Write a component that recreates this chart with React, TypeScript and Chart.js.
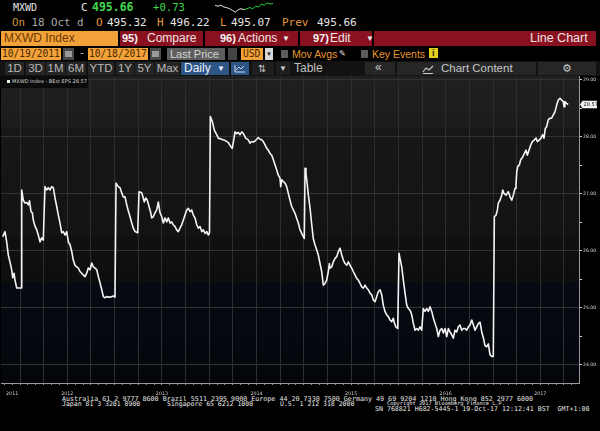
import React, { useEffect, useRef } from 'react';
import { Chart, registerables } from 'chart.js';

Chart.register(...registerables);

// ---- data: MXWD Index BEst EPS, decimal-year dates ----
const dates = [
  2011.817, 2011.841, 2011.859, 2011.876, 2011.894, 2011.912, 2011.923, 2011.937, 2011.947, 2011.965, 2012.000, 2012.011,
  2012.018, 2012.035, 2012.053, 2012.071, 2012.088, 2012.100, 2012.116, 2012.130, 2012.141, 2012.159, 2012.177, 2012.193, 2012.211, 2012.229, 2012.246,
  2012.264, 2012.282, 2012.299, 2012.317, 2012.335, 2012.352, 2012.370, 2012.388, 2012.405, 2012.423, 2012.441, 2012.458, 2012.476, 2012.494, 2012.511, 2012.529, 2012.547, 2012.563, 2012.581, 2012.599, 2012.616, 2012.634, 2012.652, 2012.669, 2012.687, 2012.705, 2012.722, 2012.740, 2012.758, 2012.775, 2012.793, 2012.811, 2012.828, 2012.846, 2012.864, 2012.881, 2012.899, 2012.917, 2012.933, 2012.951, 2012.986, 2013.004,
  2013.015, 2013.039, 2013.057, 2013.075, 2013.092, 2013.110, 2013.128, 2013.145, 2013.163, 2013.181, 2013.198, 2013.216, 2013.244,
  2013.258, 2013.286, 2013.303, 2013.314, 2013.329, 2013.346, 2013.364, 2013.382, 2013.392, 2013.409, 2013.427, 2013.445, 2013.462, 2013.480, 2013.498, 2013.515, 2013.533, 2013.551, 2013.568, 2013.586, 2013.604, 2013.620, 2013.638, 2013.656, 2013.673, 2013.691, 2013.709, 2013.726, 2013.744, 2013.762, 2013.779, 2013.797, 2013.815, 2013.832, 2013.850, 2013.868, 2013.885, 2013.903, 2013.921, 2013.938, 2013.956, 2013.974, 2013.990, 2014.003,
  2014.012, 2014.033, 2014.054, 2014.079, 2014.096, 2014.132, 2014.167, 2014.202, 2014.230, 2014.244, 2014.259, 2014.273, 2014.291, 2014.308, 2014.326, 2014.344, 2014.361, 2014.386, 2014.413, 2014.431, 2014.449, 2014.466, 2014.484, 2014.502, 2014.519, 2014.537, 2014.555, 2014.572, 2014.590, 2014.608, 2014.625, 2014.643, 2014.661, 2014.678, 2014.696, 2014.714, 2014.730, 2014.748, 2014.756, 2014.766, 2014.783, 2014.801, 2014.819, 2014.836, 2014.854, 2014.872, 2014.889, 2014.907, 2014.925, 2014.942, 2014.960, 2014.978, 2014.995, 2015.005,
  2015.013, 2015.023, 2015.037, 2015.048, 2015.066, 2015.084, 2015.100, 2015.118, 2015.136, 2015.153, 2015.171, 2015.189, 2015.206, 2015.224, 2015.242, 2015.259, 2015.270, 2015.277, 2015.295, 2015.312, 2015.330, 2015.348, 2015.365, 2015.383, 2015.401, 2015.418, 2015.436, 2015.454, 2015.471, 2015.488, 2015.506, 2015.523, 2015.541, 2015.559, 2015.576, 2015.594, 2015.612, 2015.629, 2015.647, 2015.665, 2015.682, 2015.700, 2015.718, 2015.735, 2015.753, 2015.771, 2015.788, 2015.806, 2015.824, 2015.840, 2015.858, 2015.876, 2015.893, 2015.911, 2015.929, 2015.946, 2015.957, 2015.972, 2015.993,
  2016.006, 2016.017, 2016.035, 2016.052, 2016.070, 2016.088, 2016.105, 2016.123, 2016.141, 2016.158, 2016.176, 2016.194, 2016.211, 2016.228, 2016.246, 2016.263, 2016.281, 2016.299, 2016.316, 2016.334, 2016.352, 2016.370, 2016.387, 2016.405, 2016.422, 2016.440, 2016.458, 2016.475, 2016.493, 2016.511, 2016.528, 2016.545, 2016.563, 2016.581, 2016.598, 2016.616, 2016.634, 2016.651, 2016.669, 2016.687, 2016.704, 2016.722, 2016.740, 2016.757, 2016.775, 2016.793, 2016.810, 2016.828, 2016.846, 2016.863, 2016.881, 2016.899, 2016.915, 2016.933, 2016.951, 2016.968, 2016.986, 2017.003,
  2017.014, 2017.032, 2017.046, 2017.056, 2017.074, 2017.092, 2017.103, 2017.116, 2017.137, 2017.162, 2017.180, 2017.198, 2017.215, 2017.233, 2017.243, 2017.251, 2017.261, 2017.278, 2017.293, 2017.314, 2017.331, 2017.349, 2017.363, 2017.381, 2017.399, 2017.416, 2017.437, 2017.455, 2017.469, 2017.490, 2017.507, 2017.525, 2017.539, 2017.553, 2017.567, 2017.584, 2017.602, 2017.620, 2017.638, 2017.655, 2017.673, 2017.690, 2017.708, 2017.725, 2017.743, 2017.751, 2017.760, 2017.778, 2017.795,
];

const eps = [
  26.25, 26.34, 26.16, 25.93, 25.81, 25.67, 25.53, 25.61, 25.49, 25.35, 25.35, 25.35,
  27.07, 26.89, 26.84, 26.85, 26.81, 26.88, 26.69, 26.67, 26.54, 26.43, 26.37, 26.28, 26.16, 26.23, 26.19,
  27.13, 27.07, 27.11, 27.07, 27.13, 27.11, 26.93, 26.78, 26.63, 26.49, 26.32, 26.34, 26.28, 26.34, 26.16, 26.11, 25.99, 25.84, 25.75, 25.72, 25.70, 25.64, 25.61, 25.58, 25.55, 25.61, 25.70, 25.67, 25.79, 25.72, 25.70, 25.67, 25.55, 25.44, 25.32, 25.20, 25.18, 25.20, 25.19, 25.19, 25.21, 25.19,
  27.19, 27.13, 27.11, 27.02, 26.95, 26.95, 26.81, 26.70, 26.60, 26.49, 26.40, 26.34, 26.32,
  27.04, 27.02, 26.93, 26.86, 26.93, 26.89, 26.78, 26.67, 26.58, 26.60, 26.67, 26.72, 26.86, 26.67, 26.60, 26.49, 26.58, 26.51, 26.58, 26.49, 26.51, 26.46, 26.43, 26.37, 26.34, 26.40, 26.46, 26.54, 26.63, 26.72, 26.75, 26.69, 26.72, 26.63, 26.58, 26.46, 26.40, 26.43, 26.34, 26.37, 26.31, 26.34, 26.28, 26.32,
  28.36, 28.27, 28.12, 28.04, 27.98, 27.96, 27.94, 27.90, 27.83, 27.80, 27.95, 28.09, 28.06, 28.08, 28.04, 28.09, 28.06, 27.98, 27.95, 27.89, 27.92, 27.91, 27.93, 27.96, 27.99, 27.96, 27.95, 27.92, 27.86, 27.80, 27.77, 27.71, 27.68, 27.60, 27.51, 27.42, 27.33, 27.28, 27.13, 27.25, 27.22, 27.19, 27.13, 27.01, 26.89, 26.78, 26.72, 26.66, 26.57, 26.49, 26.37, 26.31, 26.25, 26.22,
  27.45, 27.36, 27.16, 26.98, 26.75, 26.46, 26.22, 26.11, 26.02, 25.93, 25.78, 25.64, 25.40, 25.43, 25.49, 25.64, 25.78, 25.70, 25.72, 25.81, 25.87, 25.90, 25.99, 26.05, 25.93, 25.84, 25.78, 25.75, 25.81, 25.75, 25.70, 25.64, 25.58, 25.52, 25.49, 25.43, 25.37, 25.35, 25.40, 25.35, 25.32, 25.26, 25.23, 25.14, 25.11, 25.20, 25.29, 25.32, 25.23, 25.05, 24.94, 24.88, 24.85, 24.79, 24.76, 24.82, 24.74, 24.67, 24.64,
  25.96, 25.87, 25.72, 25.49, 25.26, 25.05, 24.99, 24.96, 24.88, 24.73, 24.61, 24.64, 24.61, 24.67, 24.61, 24.99, 24.94, 24.99, 24.94, 25.02, 24.94, 24.82, 24.73, 24.64, 24.50, 24.61, 24.64, 24.56, 24.64, 24.50, 24.64, 24.58, 24.53, 24.47, 24.61, 24.58, 24.67, 24.70, 24.61, 24.64, 24.64, 24.61, 24.67, 24.70, 24.79, 24.70, 24.61, 24.67, 24.73, 24.75, 24.58, 24.47, 24.34, 24.32, 24.37, 24.18, 24.15, 24.15,
  26.60, 26.63, 26.72, 26.84, 26.89, 26.98, 27.07, 27.01, 26.98, 27.04, 26.95, 26.89, 26.98, 27.10, 27.16, 27.39, 27.48, 27.51, 27.60, 27.65, 27.71, 27.77, 27.68, 27.77, 27.86, 27.92, 27.95, 27.98, 27.92, 27.95, 27.98, 28.04, 27.98, 28.15, 28.18, 28.30, 28.33, 28.33, 28.39, 28.44, 28.56, 28.65, 28.68, 28.65, 28.62, 28.53, 28.62, 28.59, 28.57,
];

const yTicks = [24, 24.5, 25, 25.5, 26, 26.5, 27, 27.5, 28, 28.5, 29];
const yearLabels = ['2011', '2012', '2013', '2014', '2015', '2016', '2017'];
const yearLabelAt = [2011 + 11 / 12, 2012.5, 2013.5, 2014.5, 2015.5, 2016.5, 2017.5];

// intraday sparkline in the header
const sparkAM = [495.95, 495.84, 495.95, 495.76, 495.69, 495.57, 495.38, 495.19, 495.46, 495.57, 495.46];
const sparkPM = [495.46, 495.57, 495.69, 495.57, 495.84, 495.76, 496.07, 495.95, 496.22, 496.07, 496.14];

const X_MIN = 2011.799;
const X_MAX = 2017.909;
const Y_MIN = 23.684;
const Y_MAX = 29.07;

const SERIES_NAME = 'MXWD Index - BEst EPS';

const footer1 = 'Australia 61 2 9777 8600 Brazil 5511 2395 9000 Europe 44 20 7330 7500 Germany 49 69 9204 1210 Hong Kong 852 2977 6000';
const footerJapan = 'Japan 81 3 3201 8900';
const footerSing = 'Singapore 65 6212 1000';
const footerUS = 'U.S. 1 212 318 2000';
const footerCopy = 'Copyright 2017 Bloomberg Finance L.P.';
const footerSN = 'SN 768821 H682-5445-1 19-Oct-17 12:12:41 BST  GMT+1:00';

const MONO = '"DejaVu Sans Mono", monospace';
const SANS = '"Liberation Sans", Arial, sans-serif';
const ORANGE = '#f3a23a';
const RED = '#8a1120';

const monthTicks = Array.from({ length: 73 }, (_, i) => 2011 + (10 + i) / 12);

const bgPlugin = {
  id: 'bgBands',
  beforeDraw(chart: any) {
    const { ctx, chartArea: a } = chart;
    if (!a) return;
    const g = ctx.createLinearGradient(0, a.top, 0, a.bottom);
    g.addColorStop(0, '#202020');
    g.addColorStop(0.17, '#1c1c1c');
    g.addColorStop(0.171, '#171717');
    g.addColorStop(0.52, '#131313');
    g.addColorStop(0.521, '#101010');
    g.addColorStop(0.67, '#0e0e0e');
    g.addColorStop(0.671, '#080a13');
    g.addColorStop(1, '#04060c');
    ctx.save();
    ctx.fillStyle = g;
    ctx.fillRect(a.left, a.top, a.right - a.left, a.bottom - a.top);
    ctx.restore();
  },
};

const badgePlugin = {
  id: 'lastBadge',
  afterDraw(chart: any) {
    const { ctx, chartArea: a } = chart;
    const last = eps[eps.length - 1];
    const y = chart.scales.y.getPixelForValue(last);
    const x0 = a.right + 1;
    ctx.save();
    ctx.fillStyle = '#f2f2f2';
    ctx.beginPath();
    ctx.moveTo(x0, y);
    ctx.lineTo(x0 + 2.5, y - 3.8);
    ctx.lineTo(x0 + 17, y - 3.8);
    ctx.lineTo(x0 + 17, y + 3.8);
    ctx.lineTo(x0 + 2.5, y + 3.8);
    ctx.closePath();
    ctx.fill();
    ctx.fillStyle = '#111';
    ctx.font = '5px "DejaVu Sans"';
    ctx.textBaseline = 'middle';
    ctx.fillText(last.toFixed(2), x0 + 3.5, y + 0.3);
    ctx.restore();
  },
};

const T = ({ x, y, h = 14, size = 11, color = '#e6e6e6', font = MONO, bold = false, children, style = {} }: any) => (
  <span
    style={{
      position: 'absolute', left: x, top: y, height: h, lineHeight: h + 'px', fontSize: size, color,
      fontFamily: font, fontWeight: bold ? 700 : 400, whiteSpace: 'pre', ...style,
    }}
  >
    {children}
  </span>
);

const Box = ({ x, y, w, h, bg, children, style = {} }: any) => (
  <div style={{ position: 'absolute', left: x, top: y, width: w, height: h, background: bg, ...style }}>{children}</div>
);

const Btn = ({ x, w, label }: any) => (
  <Box x={x} y={62} w={w} h={13} bg="#252525">
    <div style={{ width: '100%', textAlign: 'center', lineHeight: '13px', fontSize: 11.5, fontFamily: SANS, color: '#b8b8b8' }}>{label}</div>
  </Box>
);

export default function App() {
  const mainRef = useRef<HTMLCanvasElement>(null);
  const sparkRef = useRef<HTMLCanvasElement>(null);

  useEffect(() => {
    const main = new Chart(mainRef.current as HTMLCanvasElement, {
      type: 'line',
      data: {
        datasets: [
          {
            label: SERIES_NAME,
            data: dates.map((d, i) => ({ x: d, y: eps[i] })),
            borderColor: '#f4f4f4',
            borderWidth: 1.6,
            pointRadius: 0,
            tension: 0,
            borderJoinStyle: 'round',
          },
        ],
      },
      options: {
        animation: false,
        responsive: false,
        devicePixelRatio: 1,
        layout: { padding: { left: 1, top: 0, right: 0, bottom: 0 } },
        plugins: { legend: { display: false }, tooltip: { enabled: false } },
        scales: {
          x: {
            type: 'linear',
            min: X_MIN,
            max: X_MAX,
            afterBuildTicks: (s: any) => {
              s.ticks = monthTicks.map((v) => ({ value: v }));
            },
            afterFit: (s: any) => {
              s.height = 12;
              s.paddingLeft = 0;
              s.paddingRight = 0;
            },
            grid: {
              color: (c: any) => (c.tick && Math.round(c.tick.value * 12) % 3 === 0 ? '#2e2e2e' : 'rgba(0,0,0,0)'),
              tickColor: '#8c8c8c',
              tickLength: 2,
              lineWidth: 1,
            },
            border: { display: true, color: '#9a9a9a', width: 1 },
            ticks: {
              autoSkip: false,
              maxRotation: 0,
              minRotation: 0,
              padding: 5.5,
              color: '#cfcfcf',
              font: { size: 4.8, family: 'DejaVu Sans' },
              callback: (v: any) => {
                const i = yearLabelAt.findIndex((p) => Math.abs(p - Number(v)) < 0.01);
                return i >= 0 ? yearLabels[i] : '';
              },
            },
          },
          y: {
            type: 'linear',
            position: 'right',
            min: Y_MIN,
            max: Y_MAX,
            afterBuildTicks: (s: any) => {
              s.ticks = yTicks.map((v) => ({ value: v }));
            },
            afterFit: (s: any) => {
              s.width = 21;
              s.paddingTop = 0;
              s.paddingBottom = 0;
            },
            grid: {
              color: (c: any) => (c.tick && Number.isInteger(c.tick.value) ? '#333333' : 'rgba(0,0,0,0)'),
              tickColor: '#d0d0d0',
              tickLength: 3,
            },
            border: { display: true, color: '#9a9a9a', width: 1 },
            ticks: {
              padding: 1,
              color: '#d4d4d4',
              font: { size: 4.6, family: 'DejaVu Sans' },
              callback: (v: any) => (Number.isInteger(Number(v)) ? Number(v).toFixed(2) : ''),
            },
          },
        },
      } as any,
      plugins: [bgPlugin, badgePlugin],
    });

    const spark = new Chart(sparkRef.current as HTMLCanvasElement, {
      type: 'line',
      data: {
        datasets: [
          {
            data: sparkAM.map((v, i) => ({ x: i, y: v })),
            borderColor: '#e8e8e8',
            borderWidth: 1,
            pointRadius: 0,
          },
          {
            data: sparkPM.map((v, i) => ({ x: i + sparkAM.length - 1, y: v })),
            borderColor: '#2fd13a',
            borderWidth: 1,
            pointRadius: 0,
          },
        ],
      },
      options: {
        animation: false,
        responsive: false,
        devicePixelRatio: 1,
        layout: { padding: 1 },
        plugins: { legend: { display: false }, tooltip: { enabled: false } },
        scales: {
          x: { type: 'linear', display: false, min: 0, max: sparkAM.length + sparkPM.length - 2 },
          y: { type: 'linear', display: false, min: 495.1, max: 496.3 },
        },
      } as any,
    });

    return () => {
      main.destroy();
      spark.destroy();
    };
  }, []);

  const lastStr = eps[eps.length - 1].toFixed(2);

  return (
    <div style={{ position: 'fixed', left: 0, top: 0, width: 600, height: 431, background: '#000', overflow: 'hidden' }}>
      {/* row 1 */}
      <T x={13} y={0} h={15} size={10}>MXWD</T>
      <T x={81} y={0} h={15} size={11}>C</T>
      <T x={92} y={0} h={15} size={11.5} bold color="#3fd94a">495.66</T>
      <T x={153} y={0} h={15} size={10.6} color="#3fd94a">+0.73</T>
      <canvas ref={sparkRef} width={60} height={13} style={{ position: 'absolute', left: 214, top: 1, width: 60, height: 13 }} />

      {/* row 2 */}
      <T x={12} y={16} h={14} size={10.8} color="#a8a8a8"><span style={{ color: '#d4923c' }}>On</span> 18 Oct d</T>
      <T x={96} y={16} h={14} size={11} color="#e69a3c">O</T>
      <T x={107} y={16} h={14} size={11}>495.32</T>
      <T x={157} y={16} h={14} size={11} color="#e69a3c">H</T>
      <T x={170} y={16} h={14} size={11}>496.22</T>
      <T x={220} y={16} h={14} size={11} color="#e69a3c">L</T>
      <T x={231} y={16} h={14} size={11}>495.07</T>
      <T x={282} y={16} h={14} size={11} color="#e69a3c">Prev</T>
      <T x={317} y={16} h={14} size={11}>495.66</T>

      {/* row 3 */}
      <Box x={1} y={31} w={117} h={15} bg={ORANGE} />
      <T x={4} y={31} h={15} size={12} font={SANS} color="#6a3800">MXWD Index</T>
      <Box x={120} y={31} w={83} h={15} bg={RED} />
      <T x={122} y={31} h={15} size={11} font={SANS} color="#f4f4f4" bold>95)</T>
      <T x={147} y={31} h={15} size={12} font={SANS} color="#f0e4e4">Compare</T>
      <Box x={205} y={31} w={93} h={15} bg={RED} />
      <T x={220} y={31} h={15} size={11} font={SANS} color="#f4f4f4" bold>96)</T>
      <T x={238} y={31} h={15} size={12} font={SANS} color="#f0e4e4">Actions</T>
      <T x={282} y={31} h={15} size={8} font={SANS} color="#f0f0f0">▼</T>
      <Box x={300} y={31} w={72} h={15} bg={RED} />
      <T x={313} y={31} h={15} size={11} font={SANS} color="#f4f4f4" bold>97)</T>
      <T x={330} y={31} h={15} size={12} font={SANS} color="#f0e4e4">Edit</T>
      <T x={366} y={31} h={15} size={8} font={SANS} color="#f0f0f0">▼</T>
      <Box x={374} y={31} w={222} h={15} bg={RED} />
      <T x={530} y={31} h={15} size={12.5} font={SANS} color="#f0e4e4">Line Chart</T>

      {/* row 4 */}
      <Box x={1} y={48} w={60} h={12} bg={ORANGE} />
      <T x={2} y={48} h={12} size={9.6} color="#4a2800">10/19/2011</T>
      <Box x={63} y={48} w={11} h={12} bg="#4a4a4a">
        <div style={{ position: 'absolute', left: 2, top: 3, width: 7, height: 6, background: '#9a9a9a' }} />
      </Box>
      <T x={79} y={47} h={12} size={10} color="#cccccc">-</T>
      <Box x={88} y={48} w={60} h={12} bg={ORANGE} />
      <T x={89} y={48} h={12} size={9.6} color="#4a2800">10/18/2017</T>
      <Box x={150} y={48} w={11} h={12} bg="#4a4a4a">
        <div style={{ position: 'absolute', left: 2, top: 3, width: 7, height: 6, background: '#9a9a9a' }} />
      </Box>
      <Box x={167} y={48} w={58} h={12} bg="#5e5e5e" />
      <T x={170} y={48} h={12} size={11} font={SANS} color="#d4d4d4">Last Price</T>
      <Box x={228} y={48} w={9} h={12} bg="#444444" />
      <Box x={241} y={48} w={22} h={12} bg={ORANGE} />
      <T x={243} y={48} h={12} size={9.6} color="#4a2800">USD</T>
      <Box x={265} y={48} w={8} h={12} bg="#d8d8d8" />
      <T x={266} y={48} h={12} size={6} font={SANS} color="#222">▼</T>
      <Box x={281} y={50} w={7} h={8} bg="#5a5a5a" />
      <T x={292} y={48} h={12} size={10.5} font={SANS} color="#e8962e">Mov Avgs</T>
      <T x={339} y={48} h={12} size={8} font="DejaVu Sans" color="#e0e0e0">✎</T>
      <Box x={361} y={50} w={7} h={8} bg="#5a5a5a" />
      <T x={372} y={48} h={12} size={10.5} font={SANS} color="#e8962e">Key Events</T>
      <Box x={429} y={48} w={9} h={10} bg="#e5cf1a" />
      <T x={432} y={47} h={12} size={9} font={SANS} bold color="#222">i</T>

      {/* row 5 */}
      <Box x={0} y={61} w={600} h={15} bg="#121212" />
      <Btn x={5} w={19} label="1D" />
      <Btn x={26} w={19} label="3D" />
      <Btn x={46} w={19} label="1M" />
      <Btn x={66} w={20} label="6M" />
      <Btn x={88} w={26} label="YTD" />
      <Btn x={116} w={18} label="1Y" />
      <Btn x={135} w={19} label="5Y" />
      <Btn x={155} w={25} label="Max" />
      <Box x={181} y={62} w={48} h={13} bg="#2d5586" />
      <T x={184} y={62} h={13} size={12} font={SANS} color="#e8eef6">Daily</T>
      <T x={217} y={62} h={13} size={8} font={SANS} color="#e8eef6">▼</T>
      <Box x={231} y={62} w={18} h={13} bg="#2d5586">
        <svg width="18" height="13" style={{ position: 'absolute', left: 0, top: 0 }}>
          <polyline points="4,3 4,10 14,10" fill="none" stroke="#cfd8e6" strokeWidth="1" />
          <polyline points="5,8 8,5 10,7 13,4" fill="none" stroke="#cfd8e6" strokeWidth="1" />
        </svg>
      </Box>
      <Box x={252} y={62} w={22} h={13} bg="#1e1e1e" />
      <T x={258} y={62} h={13} size={10} font="DejaVu Sans" color="#c8c8c8">⇅</T>
      <Box x={276} y={62} w={14} h={13} bg="#1e1e1e" />
      <T x={279} y={62} h={13} size={8} font={SANS} color="#c8c8c8">▼</T>
      <T x={294} y={62} h={13} size={12} font={SANS} color="#c0c0c0">Table</T>
      <Box x={365} y={62} w={30} h={13} bg="#262626" />
      <T x={375} y={61} h={13} size={12} font={SANS} color="#c8c8c8">«</T>
      <Box x={397} y={62} w={139} h={13} bg="#262626" />
      <svg width="12" height="10" style={{ position: 'absolute', left: 422, top: 64 }}>
        <polyline points="1,8 4,4 7,6 11,2" fill="none" stroke="#c8c8c8" strokeWidth="1.2" />
        <line x1="1" y1="9.5" x2="11" y2="9.5" stroke="#c8c8c8" strokeWidth="1" />
      </svg>
      <T x={441} y={62} h={13} size={11.5} font={SANS} color="#c8c8c8">Chart Content</T>
      <Box x={538} y={62} w={58} h={13} bg="#262626" />
      <T x={562} y={62} h={13} size={11} font="DejaVu Sans" color="#c8c8c8">⚙</T>

      {/* chart */}
      <canvas ref={mainRef} width={600} height={319} style={{ position: 'absolute', left: 0, top: 76, width: 600, height: 319 }} />

      {/* legend */}
      <Box x={0} y={76} w={88} h={12} bg="#0b0b0b" />
      <Box x={7} y={80} w={3} h={3} bg="#f0f0f0" />
      <T x={12} y={78} h={7} size={5} font="DejaVu Sans" color="#d8d8d8">{SERIES_NAME + ' ' + lastStr}</T>

      {/* footer */}
      <T x={62} y={396} h={7} size={6.7} color="#e8e8e8">{footer1}</T>
      <T x={62} y={401} h={7} size={6.5} color="#e8e8e8">{footerJapan}</T>
      <T x={167} y={401} h={7} size={6.5} color="#e8e8e8">{footerSing}</T>
      <T x={280} y={401} h={7} size={6.5} color="#e8e8e8">{footerUS}</T>
      <T x={387} y={400} h={7} size={5.3} color="#e8e8e8">{footerCopy}</T>
      <T x={375} y={406} h={7} size={6.6} color="#e8e8e8">{footerSN}</T>
    </div>
  );
}
